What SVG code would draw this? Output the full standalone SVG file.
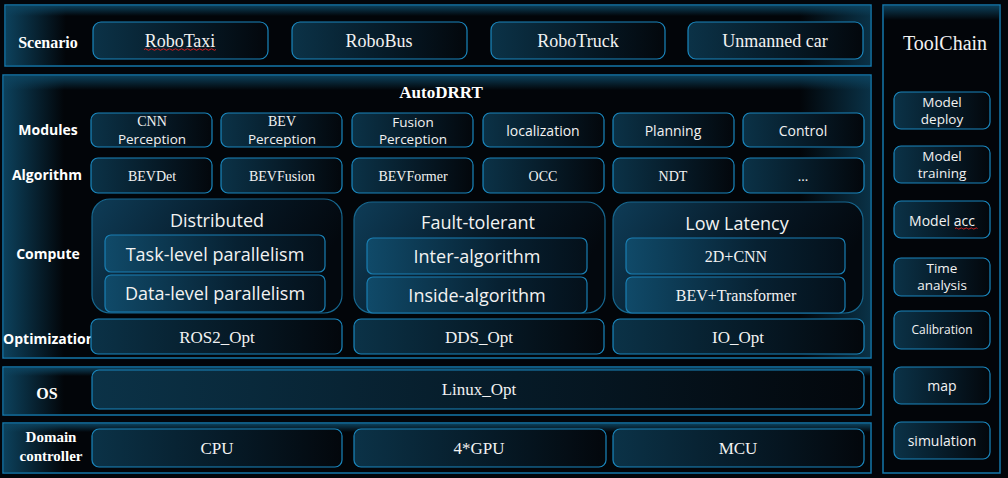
<svg xmlns="http://www.w3.org/2000/svg" width="1008" height="478" viewBox="0 0 1008 478">
<defs>
<linearGradient id="boxG" x1="0" y1="0" x2="1" y2="0">
<stop offset="0" stop-color="#0b3247"/><stop offset="0.55" stop-color="#061a27"/><stop offset="1" stop-color="#03070c"/>
</linearGradient>
<linearGradient id="compG" x1="0" y1="0" x2="1" y2="0.3">
<stop offset="0" stop-color="#0e3c57"/><stop offset="0.6" stop-color="#061724"/><stop offset="1" stop-color="#03080e"/>
</linearGradient>
<linearGradient id="innerG" x1="0" y1="0" x2="1" y2="0">
<stop offset="0" stop-color="#104a69"/><stop offset="0.6" stop-color="#072132"/><stop offset="1" stop-color="#04101a"/>
</linearGradient>
<linearGradient id="glowL" x1="0" y1="0" x2="1" y2="0">
<stop offset="0" stop-color="#0d4460" stop-opacity="0.95"/><stop offset="1" stop-color="#0d4460" stop-opacity="0"/>
</linearGradient>
<linearGradient id="glowR" x1="1" y1="0" x2="0" y2="0">
<stop offset="0" stop-color="#0d4460" stop-opacity="0.7"/><stop offset="1" stop-color="#0d4460" stop-opacity="0"/>
</linearGradient>
<linearGradient id="glowT" x1="0" y1="0" x2="0" y2="1">
<stop offset="0" stop-color="#0d4460" stop-opacity="0.9"/><stop offset="1" stop-color="#0d4460" stop-opacity="0"/>
</linearGradient>
</defs>
<style>
.panel{fill:#020509;stroke:#1577aa;stroke-width:1.5}
.box{fill:url(#boxG);stroke:#1a86bd;stroke-width:1.2}
.comp{fill:url(#compG);stroke:#17678f;stroke-width:1.2}
.inner{fill:url(#innerG);stroke:#1a7fb3;stroke-width:1.2}
.serif{font-family:"Liberation Serif","Times New Roman",serif;fill:#f2f2f2}
.sans{font-family:"Open Sans","Noto Sans","Liberation Sans",sans-serif;fill:#f2f2f2}
.lbl{font-family:"Open Sans","Noto Sans","Liberation Sans",sans-serif;font-weight:bold;fill:#ffffff;font-size:14px}
.lbls{font-family:"Liberation Serif","Times New Roman",serif;font-weight:bold;fill:#ffffff}
text{text-anchor:middle;dominant-baseline:central}
.wavy{fill:none;stroke:#d42020;stroke-width:1}
</style>
<rect width="1008" height="478" fill="#02050a"/>

<!-- Panels -->
<g id="scenario-panel">
<rect class="panel" x="5" y="5" width="866" height="61"/>
<rect x="6" y="6" width="60" height="59" fill="url(#glowL)"/>
<rect x="800" y="6" width="70" height="59" fill="url(#glowR)"/>
<rect x="6" y="6" width="864" height="10" fill="url(#glowT)"/>
<text class="lbls" x="48" y="42" font-size="16">Scenario</text>
</g>
<g id="main-panel">
<rect class="panel" x="3" y="75" width="868" height="283"/>
<rect x="4" y="76" width="60" height="281" fill="url(#glowL)"/>
<rect x="800" y="76" width="70" height="281" fill="url(#glowR)"/>
<rect x="4" y="76" width="866" height="14" fill="url(#glowT)"/>
<text class="lbls" x="441" y="92" font-size="17">AutoDRRT</text>
<text class="lbl" x="48" y="129">Modules</text>
<text class="lbl" x="47" y="174">Algorithm</text>
<text class="lbl" x="48" y="253">Compute</text>
<text class="lbl" x="49" y="338">Optimization</text>
</g>
<g id="os-panel">
<rect class="panel" x="3" y="367" width="868" height="48"/>
<rect x="4" y="368" width="60" height="46" fill="url(#glowL)"/>
<rect x="4" y="368" width="866" height="8" fill="url(#glowT)"/>
<text class="lbls" x="47" y="393" font-size="16">OS</text>
</g>
<g id="domain-panel">
<rect class="panel" x="3" y="423" width="868" height="50"/>
<rect x="4" y="424" width="60" height="48" fill="url(#glowL)"/>
<rect x="4" y="424" width="866" height="8" fill="url(#glowT)"/>
<text class="lbls" x="51" y="437" font-size="15">Domain</text>
<text class="lbls" x="51" y="456" font-size="15">controller</text>
</g>
<g id="toolchain-panel">
<rect class="panel" x="883" y="5" width="117" height="468"/>
<rect x="884" y="6" width="115" height="14" fill="url(#glowT)"/>
<text class="serif" x="945" y="43" font-size="20">ToolChain</text>
</g>

<!-- Scenario nodes -->
<g id="robotaxi"><rect class="box" x="93" y="22" width="175" height="37" rx="8"/><text class="serif" x="180" y="41" font-size="18">RoboTaxi</text>
<path class="wavy" d="M144 49.5 q1.5 -1.5 3 0 t3 0 t3 0 t3 0 t3 0 t3 0 t3 0 t3 0 t3 0 t3 0 t3 0 t3 0 t3 0 t3 0 t3 0 t3 0 t3 0 t3 0 t3 0 t3 0 t3 0 t3 0 t3 0 t3 0"/></g>
<g id="robobus"><rect class="box" x="292" y="22" width="175" height="37" rx="8"/><text class="serif" x="379" y="41" font-size="18">RoboBus</text></g>
<g id="robotruck"><rect class="box" x="491" y="22" width="174" height="37" rx="8"/><text class="serif" x="578" y="41" font-size="18">RoboTruck</text></g>
<g id="unmanned"><rect class="box" x="688" y="22" width="175" height="37" rx="8"/><text class="serif" x="775" y="41" font-size="18">Unmanned car</text></g>

<!-- Modules -->
<g id="m-cnn"><rect class="box" x="91" y="113" width="121" height="34" rx="7"/><text class="serif" x="152" y="121.5" font-size="14">CNN</text><text class="sans" x="152" y="138.5" font-size="13.5">Perception</text></g>
<g id="m-bev"><rect class="box" x="221" y="113" width="121" height="34" rx="7"/><text class="serif" x="282" y="121.5" font-size="14">BEV</text><text class="sans" x="282" y="138.5" font-size="13.5">Perception</text></g>
<g id="m-fusion"><rect class="box" x="352" y="113" width="121" height="34" rx="7"/><text class="sans" x="413" y="121.5" font-size="13.5">Fusion</text><text class="sans" x="413" y="138.5" font-size="13.5">Perception</text></g>
<g id="m-loc"><rect class="box" x="483" y="113" width="121" height="34" rx="7"/><text class="sans" x="543" y="130" font-size="14">localization</text></g>
<g id="m-plan"><rect class="box" x="613" y="113" width="121" height="34" rx="7"/><text class="sans" x="673" y="130" font-size="14">Planning</text></g>
<g id="m-ctrl"><rect class="box" x="743" y="113" width="121" height="34" rx="7"/><text class="sans" x="803" y="130" font-size="14">Control</text></g>

<!-- Algorithms -->
<g id="a-bevdet"><rect class="box" x="91" y="158" width="121" height="35" rx="7"/><text class="serif" x="152" y="176" font-size="14">BEVDet</text></g>
<g id="a-bevfusion"><rect class="box" x="221" y="158" width="121" height="35" rx="7"/><text class="serif" x="282" y="176" font-size="14">BEVFusion</text></g>
<g id="a-bevformer"><rect class="box" x="352" y="158" width="121" height="35" rx="7"/><text class="serif" x="413" y="176" font-size="14">BEVFormer</text></g>
<g id="a-occ"><rect class="box" x="483" y="158" width="121" height="35" rx="7"/><text class="serif" x="543" y="176" font-size="14">OCC</text></g>
<g id="a-ndt"><rect class="box" x="613" y="158" width="121" height="35" rx="7"/><text class="serif" x="673" y="176" font-size="14">NDT</text></g>
<g id="a-more"><rect class="box" x="743" y="158" width="121" height="35" rx="7"/><text class="serif" x="803" y="176" font-size="14">...</text></g>

<!-- Compute -->
<g id="c-distributed">
<rect class="comp" x="92" y="199" width="250" height="114" rx="18"/>
<text class="sans" x="217" y="220" font-size="18">Distributed</text>
<rect class="inner" x="105" y="235" width="220" height="37" rx="6"/>
<text class="sans" x="215" y="254" font-size="18">Task-level parallelism</text>
<rect class="inner" x="105" y="275" width="220" height="37" rx="6"/>
<text class="sans" x="215" y="293" font-size="18">Data-level parallelism</text>
</g>
<g id="c-fault">
<rect class="comp" x="354" y="202" width="251" height="111" rx="18"/>
<text class="sans" x="478" y="222" font-size="18">Fault-tolerant</text>
<rect class="inner" x="367" y="238" width="220" height="36" rx="6"/>
<text class="sans" x="477" y="256" font-size="18">Inter-algorithm</text>
<rect class="inner" x="367" y="277" width="220" height="36" rx="6"/>
<text class="sans" x="477" y="295" font-size="18">Inside-algorithm</text>
</g>
<g id="c-latency">
<rect class="comp" x="613" y="202" width="250" height="111" rx="18"/>
<text class="sans" x="737" y="223" font-size="18">Low Latency</text>
<rect class="inner" x="626" y="238" width="219" height="36" rx="6"/>
<text class="serif" x="736" y="256" font-size="16">2D+CNN</text>
<rect class="inner" x="626" y="277" width="219" height="36" rx="6"/>
<text class="serif" x="736" y="295" font-size="16">BEV+Transformer</text>
</g>

<!-- Optimization -->
<g id="o-ros2"><rect class="box" x="91" y="319" width="251" height="35" rx="7"/><text class="serif" x="217" y="337" font-size="17">ROS2_Opt</text></g>
<g id="o-dds"><rect class="box" x="354" y="319" width="250" height="35" rx="7"/><text class="serif" x="479" y="337" font-size="17">DDS_Opt</text></g>
<g id="o-io"><rect class="box" x="613" y="319" width="251" height="35" rx="7"/><text class="serif" x="738" y="337" font-size="17">IO_Opt</text></g>

<!-- OS -->
<g id="os-linux"><rect class="box" x="92" y="370" width="772" height="39" rx="7"/><text class="serif" x="479" y="389" font-size="17">Linux_Opt</text></g>

<!-- Domain controller -->
<g id="d-cpu"><rect class="box" x="92" y="429" width="250" height="38" rx="7"/><text class="serif" x="217" y="448" font-size="17">CPU</text></g>
<g id="d-gpu"><rect class="box" x="354" y="429" width="252" height="38" rx="7"/><text class="serif" x="479" y="448" font-size="17">4*GPU</text></g>
<g id="d-mcu"><rect class="box" x="613" y="429" width="251" height="38" rx="7"/><text class="serif" x="738" y="448" font-size="17">MCU</text></g>

<!-- Toolchain nodes -->
<g id="t-deploy"><rect class="box" x="894" y="92" width="96" height="37" rx="7"/><text class="sans" x="942" y="102" font-size="13.5">Model</text><text class="sans" x="942" y="119" font-size="13.5">deploy</text></g>
<g id="t-training"><rect class="box" x="894" y="146" width="96" height="37" rx="7"/><text class="sans" x="942" y="156" font-size="13.5">Model</text><text class="sans" x="942" y="173" font-size="13.5">training</text></g>
<g id="t-acc"><rect class="box" x="894" y="201" width="96" height="37" rx="7"/><text class="sans" x="942" y="220" font-size="14">Model acc</text>
<path class="wavy" d="M955 228.5 q1.25 -1.3 2.5 0 t2.5 0 t2.5 0 t2.5 0 t2.5 0 t2.5 0 t2.5 0 t2.5 0 t2.5 0"/></g>
<g id="t-time"><rect class="box" x="894" y="258" width="96" height="38" rx="7"/><text class="sans" x="942" y="268" font-size="13.5">Time</text><text class="sans" x="942" y="285" font-size="13.5">analysis</text></g>
<g id="t-calib"><rect class="box" x="894" y="311" width="96" height="38" rx="7"/><text class="sans" x="942" y="329" font-size="12">Calibration</text></g>
<g id="t-map"><rect class="box" x="894" y="367" width="96" height="37" rx="7"/><text class="sans" x="942" y="385" font-size="14">map</text></g>
<g id="t-sim"><rect class="box" x="894" y="422" width="96" height="37" rx="7"/><text class="sans" x="942" y="440" font-size="14">simulation</text></g>

<g id="connectors"></g>
</svg>
